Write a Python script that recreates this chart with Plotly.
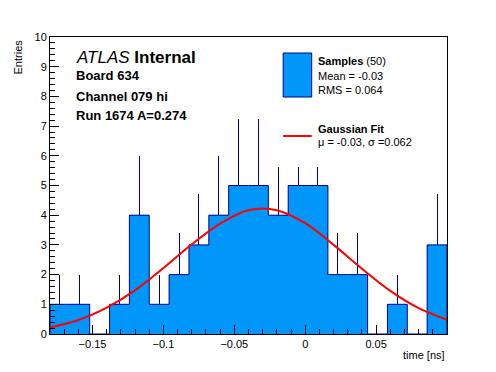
import numpy as np
import plotly.graph_objects as go

# ---- data ----
bin_lo = -0.18
bin_width = 0.014
counts = [1, 1, 0, 1, 4, 1, 2, 3, 4, 5, 5, 4, 5, 5, 2, 2, 0, 1, 0, 3]
err_top = [2, 2, 0, 2, 6, 2, 3.41, 4.73, 6, 7.24, 7.24, 5.61, 5.61, 5.61, 3.41, 3.41, 0, 2, 0, 4.73]
fit_x = [-0.18, -0.16, -0.14, -0.12, -0.10, -0.08, -0.06, -0.04, -0.02, 0.0, 0.02, 0.04, 0.06, 0.08, 0.10]
fit_y = [0.22, 0.47, 0.89, 1.47, 2.22, 3.02, 3.72, 4.17, 4.17, 3.73, 3.00, 2.20, 1.45, 0.87, 0.48]
x_ticks = [-0.15, -0.1, -0.05, 0, 0.05]
x_ticklabels = ["\u22120.15", "\u22120.1", "\u22120.05", "0", "0.05"]
y_ticks = list(range(0, 11))

n = len(counts)
edges = bin_lo + bin_width * np.arange(n + 1)
centers = (edges[:-1] + edges[1:]) / 2
err_up = [max(t - c, 0) for t, c in zip(err_top, counts)]

FILL = "#0096FA"
EDGE = "#00008C"
FONT = "Liberation Sans"

fig = go.Figure()
fig.add_trace(go.Bar(
    x=centers, y=counts, width=bin_width,
    marker=dict(color=FILL, line=dict(width=0)),
    error_y=dict(type="data", symmetric=False, array=err_up,
                 arrayminus=[0] * n, color=EDGE, thickness=1, width=0),
    showlegend=False, hoverinfo="skip"))

step_x = [edges[0]] + list(edges[:-1]) + [edges[-1], edges[-1]]
step_y = [0] + counts + [counts[-1], 0]
fig.add_trace(go.Scatter(x=step_x, y=step_y, mode="lines",
                         line=dict(color=EDGE, width=1, shape="hv"),
                         showlegend=False, hoverinfo="skip"))

fig.add_trace(go.Scatter(x=fit_x, y=fit_y, mode="lines",
                         line=dict(color="#FF0000", width=2, shape="spline"),
                         showlegend=False, hoverinfo="skip"))

# page body has an 8px margin: work in window pixels, shift into figure coords
OFF = 8
W, H = 496 - OFF, 372 - OFF
L, R, T, B = 50 - OFF, 446.7 - OFF, 37 - OFF, 334 - OFF


def px(x):
    return (x - OFF - L) / (R - L)


def py(y):
    return (B - (y - OFF)) / (B - T)


shapes = [
    dict(type="rect", xref="paper", yref="paper", x0=px(283), x1=px(311.5),
         y0=py(97), y1=py(53), fillcolor=FILL, line=dict(color=EDGE, width=1)),
    dict(type="line", xref="paper", yref="paper", x0=px(283), x1=px(311.5),
         y0=py(136), y1=py(136), line=dict(color="#FF0000", width=2)),
]


def ann(x, y, text, size, anchor="left"):
    return dict(xref="paper", yref="paper", x=px(x), y=py(y), text=text,
                showarrow=False, xanchor=anchor, yanchor="middle",
                font=dict(family=FONT, size=size, color="black"))


annotations = [
    ann(74, 57, "<i>ATLAS</i> <b>Internal</b>", 17),
    ann(74, 76, "<b>Board 634</b>", 13),
    ann(74, 96, "<b>Channel 079 hi</b>", 13),
    ann(74, 115, "<b>Run 1674 A=0.274</b>", 13),
    ann(316, 61, "<b>Samples</b> (50)", 11),
    ann(316, 76, "Mean = -0.03", 11),
    ann(316, 90, "RMS = 0.064", 11),
    ann(316, 129, "<b>Gaussian Fit</b>", 11),
    ann(316, 142, "\u03bc = -0.03, \u03c3 =0.062", 11),
    ann(446.5, 355, "time [ns]", 11, anchor="right"),
]
annotations.append(dict(xref="paper", yref="paper", x=px(18), y=py(37),
                        text="Entries", showarrow=False, textangle=-90,
                        xanchor="center", yanchor="top",
                        font=dict(family=FONT, size=11, color="black")))

fig.update_layout(
    width=W, height=H,
    margin=dict(l=L, r=W - R, t=T, b=H - B, pad=0, autoexpand=False),
    paper_bgcolor="white", plot_bgcolor="white",
    bargap=0, showlegend=False,
    font=dict(family=FONT, size=11, color="black"),
    shapes=shapes, annotations=annotations,
    xaxis=dict(range=[bin_lo, bin_lo + n * bin_width], tickvals=x_ticks,
               ticktext=x_ticklabels, ticks="inside", ticklen=9,
               tickcolor="black", showline=True, linecolor="black",
               linewidth=1, mirror=True, showgrid=False, zeroline=False,
               automargin=False,
               tickfont=dict(family=FONT, size=11),
               minor=dict(dtick=0.01, tick0=0, ticks="inside", ticklen=5,
                          tickcolor="black", showgrid=False)),
    yaxis=dict(range=[0, 10], tickvals=y_ticks, ticks="inside", ticklen=9,
               tickcolor="black", showline=True, linecolor="black",
               linewidth=1, mirror=True, showgrid=False, zeroline=False,
               automargin=False,
               tickfont=dict(family=FONT, size=11),
               minor=dict(dtick=0.2, tick0=0, ticks="inside", ticklen=5,
                          tickcolor="black", showgrid=False)),
)

fig.write_html("out.html")
